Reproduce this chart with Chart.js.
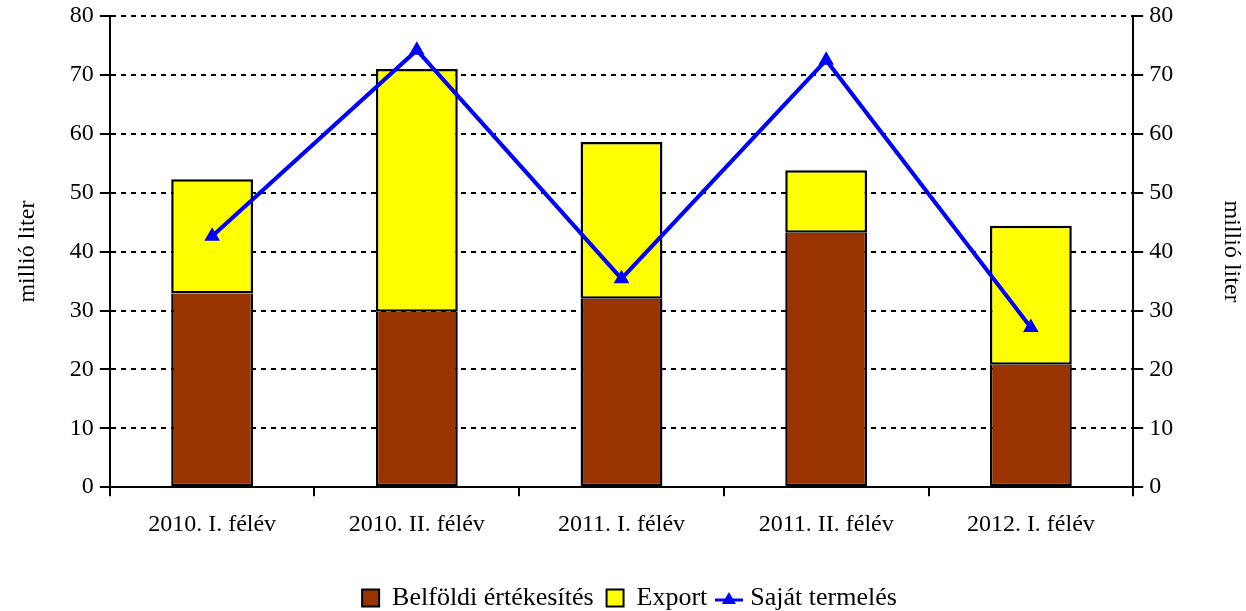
<!DOCTYPE html>
<html>
<head>
<meta charset="utf-8">
<script src="https://cdn.jsdelivr.net/npm/chart.js@4"></script>
<style>
  body { margin: 0; background: #fff; }
  #wrap { width: 1246px; height: 611px; }
</style>
</head>
<body>
<div id="wrap"><canvas id="chart" width="1246" height="611"></canvas></div>
<script>
const CATEGORIES = ["2010. I. félév", "2010. II. félév", "2011. I. félév", "2011. II. félév", "2012. I. félév"];
const BELFOLDI = [32.9, 29.8, 32.0, 43.2, 20.8];
const EXPORT = [19.4, 41.2, 26.6, 10.6, 23.6];
const SAJAT = [42.6, 74.2, 35.4, 72.5, 27.1];
const Y_MIN = 0, Y_MAX = 80, Y_STEP = 10;
const LEGEND_ORDER = ['Belföldi értékesítés', 'Export', 'Saját termelés'];

const FONT = "'Liberation Serif', 'Times New Roman', serif";

// kis ikon a vonal jelmagyarázatához: vonal + háromszög
function lineIcon() {
  const c = document.createElement('canvas');
  c.width = 28; c.height = 16;
  const g = c.getContext('2d');
  g.strokeStyle = '#0000ff'; g.lineWidth = 3;
  g.beginPath(); g.moveTo(0, 10); g.lineTo(28, 10); g.stroke();
  g.fillStyle = '#0000ff';
  g.beginPath(); g.moveTo(14, 2); g.lineTo(21, 14); g.lineTo(7, 14); g.closePath(); g.fill();
  return c;
}

// y tengely közös beállításai
function yAxis(pos, grid, titlePad) {
  return {
    type: 'linear',
    position: pos,
    stacked: pos === 'left',
    min: Y_MIN, max: Y_MAX,
    ticks: { stepSize: Y_STEP, color: '#000', font: { family: FONT, size: 24 }, padding: 6 },
    grid: {
      display: true,
      drawOnChartArea: grid,
      color: '#000',
      lineWidth: 2,
      tickLength: 10,
      tickColor: '#000',
      tickWidth: 2,
      tickBorderDash: []
    },
    border: { display: true, color: '#000', width: 2, dash: [5, 5] },
    title: { display: true, text: 'millió liter', color: '#000', font: { family: FONT, size: 24 }, padding: { top: 0, bottom: titlePad } },
    afterFit(scale) { scale.paddingTop = 16; }
  };
}

new Chart(document.getElementById('chart'), {
  data: {
    labels: CATEGORIES,
    datasets: [
      {
        type: 'line', label: 'Saját termelés', data: SAJAT, yAxisID: 'y2',
        borderColor: '#0000ff', backgroundColor: '#0000ff', borderWidth: 4,
        pointStyle: 'triangle', pointRadius: 9, pointHoverRadius: 9, pointBorderWidth: 0, order: 0
      },
      {
        type: 'bar', label: 'Belföldi értékesítés', data: BELFOLDI, yAxisID: 'y',
        backgroundColor: '#993300', borderColor: '#000',
        borderWidth: { left: 2.5, right: 2.5, bottom: 2.5, top: 0 },
        borderSkipped: false, pointStyle: 'rect', order: 1
      },
      {
        type: 'bar', label: 'Export', data: EXPORT, yAxisID: 'y',
        backgroundColor: '#ffff00', borderColor: '#000', borderWidth: 2.5,
        borderSkipped: false, pointStyle: 'rect', order: 2
      }
    ]
  },
  options: {
    responsive: false,
    animation: false,
    layout: { padding: { left: 13, right: 0, top: 0, bottom: -10 } },
    datasets: { bar: { barPercentage: 0.4, categoryPercentage: 1 } },
    scales: {
      x: {
        stacked: true,
        offset: true,
        ticks: { color: '#000', font: { family: FONT, size: 24 }, padding: 14 },
        grid: { offset: true, drawOnChartArea: false, color: '#000', lineWidth: 2, tickLength: 9 },
        border: { display: true, color: '#000', width: 2 },
        afterFit(scale) { scale.height += 19; }
      },
      y: yAxis('left', true, 22),
      y2: yAxis('right', false, 38)
    },
    plugins: {
      tooltip: { enabled: false },
      legend: {
        position: 'bottom',
        labels: {
          usePointStyle: true,
          boxWidth: 17,
          boxHeight: 17,
          color: '#000',
          font: { family: FONT, size: 26 },
          padding: 13,
          generateLabels(chart) {
            const items = Chart.defaults.plugins.legend.labels.generateLabels(chart);
            items.forEach(it => {
              if (it.text === 'Saját termelés') it.pointStyle = lineIcon();
              else { it.lineWidth = 2; it.strokeStyle = '#000'; }
            });
            return items.sort((a, b) => LEGEND_ORDER.indexOf(a.text) - LEGEND_ORDER.indexOf(b.text));
          }
        }
      }
    }
  }
});
</script>
</body>
</html>
